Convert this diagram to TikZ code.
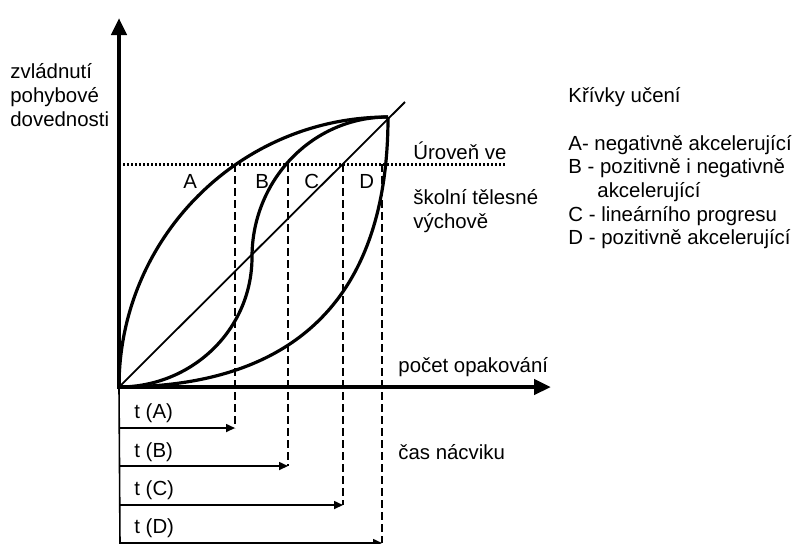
\documentclass[tikz,border=0pt]{standalone}
\usepackage{fontspec}
\setmainfont{Liberation Sans}
\usetikzlibrary{arrows.meta}

\tikzset{
  axis/.style={line width=2.2pt, -{Triangle[length=8.5pt,width=7.5pt]}},
  curve/.style={line width=1.6pt},
  level/.style={line width=1.5pt, dash pattern=on 1pt off 1pt},
  mark line/.style={line width=1.2pt, dash pattern=on 4pt off 2pt},
  time/.style={line width=0.8pt, -{Triangle[length=4.5pt,width=4pt]}},
  txt/.style={anchor=west, inner sep=0pt, font=\fontsize{10.2}{12}\selectfont},
}

\begin{document}
\begin{tikzpicture}[x=0.5pt, y=-0.5pt]
 \useasboundingbox (0,0) rectangle (795,543);

 % axes
 \coordinate (O) at (119,387);
 \coordinate (ytop) at (119,18);
 \coordinate (xend) at (551,387);
 \coordinate (ybot) at (120,545);
 \draw[axis] (119,389) -- (ytop);
 \draw[axis] (117,387) -- (xend);
 \draw[line width=0.8pt] (O) -- (ybot);

 % learning curves
 \coordinate (T) at (388,117);
 \coordinate (M) at (252,257);
 \coordinate (lend) at (405,102);
 \draw[curve] (O) to[out=90,in=180] (T);
 \draw[curve] (O) to[out=0,in=270] (M) to[out=90,in=180] (T);
 \draw[curve] (O) to[out=0,in=270,looseness=1.2] (T);
 \draw[line width=0.9pt] (O) -- (lend);

 % level of school PE
 \coordinate (lvlA) at (119,164);
 \coordinate (lvlB) at (505,164);
 \draw[level] (lvlA) -- (lvlB);

 \node[txt] (labA) at (183,181) {A};
 \node[txt] (labB) at (255,181) {B};
 \node[txt] (labC) at (304,181) {C};
 \node[txt] (labD) at (359,181) {D};

 % times
 \coordinate (topA) at (235,164);
 \coordinate (topB) at (288,164);
 \coordinate (topC) at (343,164);
 \coordinate (topD) at (382,164);
 \coordinate (endA) at (235,428);
 \coordinate (endB) at (288,466);
 \coordinate (endC) at (343,505);
 \coordinate (endD) at (382,543);
 \coordinate (startA) at (120,428);
 \coordinate (startB) at (120,466);
 \coordinate (startC) at (120,505);
 \coordinate (startD) at (120,543);

 \draw[mark line] (topA) -- (endA);
 \draw[mark line] (topB) -- (endB);
 \draw[mark line] (topC) -- (endC);
 \draw[mark line] (topD) -- (endD);

 \draw[time] (startA) -- (endA);
 \draw[time] (startB) -- (endB);
 \draw[time] (startC) -- (endC);
 \draw[time] (startD) -- (endD);

 \node[txt] (tA) at (134,413) {t (A)};
 \node[txt] (tB) at (134,452) {t (B)};
 \node[txt] (tC) at (134,490) {t (C)};
 \node[txt] (tD) at (134,528) {t (D)};

 % texts
 \node[txt] (ylab) at (10,98) {\begin{tabular}{@{}l@{}}zvládnutí\\pohybové\\dovednosti\end{tabular}};
 \node[txt] (xlab) at (398,367) {počet opakování};
 \node[txt] (cas) at (398,452) {čas nácviku};
 \node[txt] (uroven) at (413,151) {Úroveň ve};
 \node[txt] (skolni) at (413,212) {\begin{tabular}{@{}l@{}}školní tělesné\\výchově\end{tabular}};

 % legend
 \node[txt] (leg0) at (568,97) {Křívky učení};
 \node[txt] (legA) at (568,145) {A- negativně akcelerující};
 \node[txt] (legB) at (568,168) {B - pozitivně i negativně};
 \node[txt] (legB2) at (597,192) {akcelerující};
 \node[txt] (legC) at (568,216) {C - lineárního progresu};
 \node[txt] (legD) at (568,239) {D - pozitivně akcelerující};
\end{tikzpicture}
\end{document}
